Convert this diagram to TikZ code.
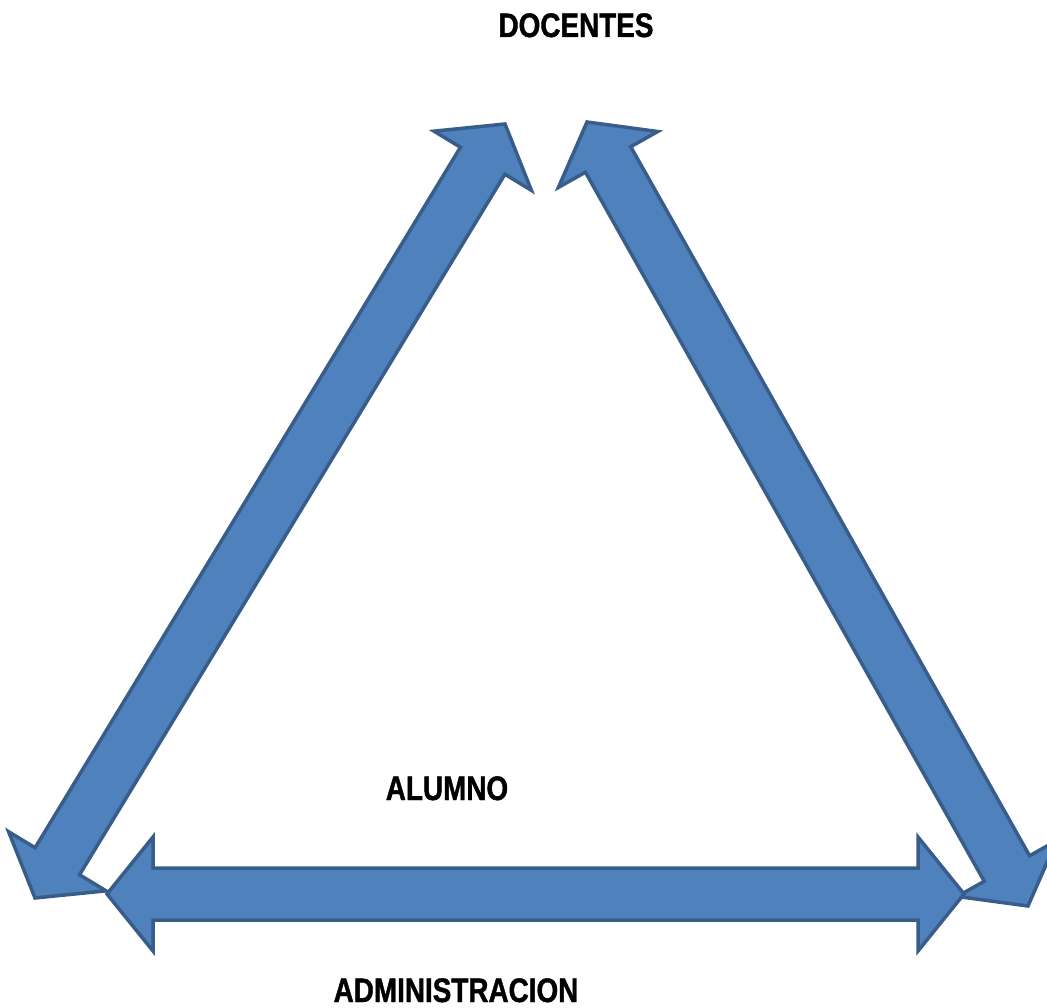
\documentclass[tikz,border=0pt]{standalone}
\usepackage{fontspec}
\setmainfont{Liberation Sans}[FakeStretch=0.82,BoldFeatures={FakeBold=1.2}]
\usetikzlibrary{calc}
\definecolor{arrfill}{HTML}{4F81BD}
\definecolor{arrline}{HTML}{385D8A}
\tikzset{
  bigarrow/.style={fill=arrfill, draw=arrline, line width=3.5pt, line join=miter},
  lbl/.style={anchor=base, font=\bfseries\fontsize{34}{40}\selectfont, inner sep=0pt}
}
% double-headed block arrow between tips #1 and #2; #3 head length, #4 half head width, #5 half shaft width
\newcommand\dblblock[5]{%
  \draw[bigarrow] (#1)
    -- ($(#1)!#3!(#2)!#4!90:(#2)$)
    -- ($(#1)!#3!(#2)!#5!90:(#2)$)
    -- ($(#2)!#3!(#1)!#5!-90:(#1)$)
    -- ($(#2)!#3!(#1)!#4!-90:(#1)$)
    -- (#2)
    -- ($(#2)!#3!(#1)!#4!90:(#1)$)
    -- ($(#2)!#3!(#1)!#5!90:(#1)$)
    -- ($(#1)!#3!(#2)!#5!-90:(#2)$)
    -- ($(#1)!#3!(#2)!#4!-90:(#2)$)
    -- cycle;}
\begin{document}
\begin{tikzpicture}[x=1pt,y=-1pt]
\useasboundingbox (0,0) rectangle (1047,1008);
\coordinate (lb) at (35,898);
\coordinate (lt) at (505,124);
\coordinate (rt) at (587,122);
\coordinate (rb) at (1028,906);
\coordinate (hl) at (107,894);
\coordinate (hr) at (964,894);
\dblblock{lb}{lt}{43pt}{57pt}{26pt}
\dblblock{rt}{rb}{43pt}{57pt}{26pt}
\dblblock{hl}{hr}{46pt}{57pt}{26pt}
\node[lbl] (docentes) at (576,37) {DOCENTES};
\node[lbl] (alumno) at (447,800) {ALUMNO};
\node[lbl] (admin) at (456,1002) {ADMINISTRACION};
\end{tikzpicture}
\end{document}
